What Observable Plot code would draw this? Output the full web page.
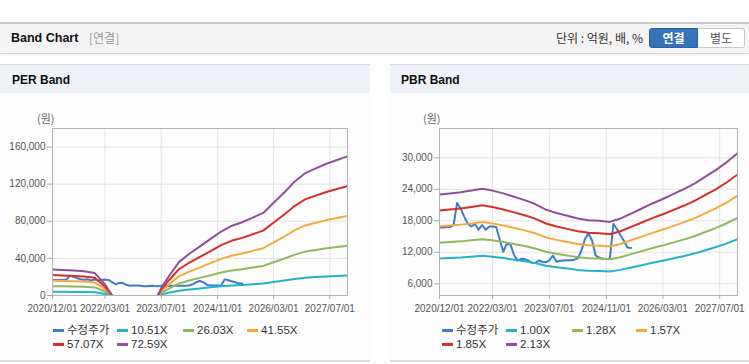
<!DOCTYPE html>
<html><head><meta charset="utf-8">
<script src="https://cdn.jsdelivr.net/npm/d3@7"></script>
<script src="https://cdn.jsdelivr.net/npm/@observablehq/plot@0.6"></script>
<style>
body{margin:0;width:749px;height:364px;position:relative;overflow:hidden;background:#fff;font-family:"Liberation Sans","Noto Sans CJK KR",Arial,sans-serif;}
.abs{position:absolute;white-space:nowrap;}
#topbar{left:0;top:22px;width:749px;height:32px;box-sizing:border-box;background:#f4f4f4;border-top:2px solid #c8c8c8;border-bottom:1px solid #d4d4d4;box-shadow:0 1px 2px rgba(0,0,0,0.07);}
.title{font-weight:bold;font-size:12.5px;color:#111;line-height:16px;}
.btn{top:28px;height:20px;box-sizing:border-box;font-size:12px;line-height:18px;text-align:center;font-family:"Noto Sans CJK KR",sans-serif;}
.panel{top:64px;height:298px;border-top:1px solid #dadada;border-bottom:2px solid #dedede;box-sizing:border-box;background:#fdfdfd;}
.phead{position:absolute;left:0;top:0;right:0;height:28px;background:#eef2f7;}
.unit{font-size:11px;color:#666;line-height:14px;font-family:"Noto Sans CJK KR",sans-serif;}
.leg{font-size:11.5px;color:#333;line-height:14px;display:flex;align-items:center;}
.sw{display:inline-block;width:11px;height:3px;margin-right:3px;}
</style></head>
<body>
<div id="topbar" class="abs"></div>
<div class="abs title" style="left:11px;top:30px;">Band Chart</div>
<div class="abs" style="left:89px;top:30px;font-size:12px;line-height:16px;color:#999;font-family:'Noto Sans CJK KR',sans-serif;">[연결]</div>
<div class="abs" style="right:106px;top:30px;font-size:12px;line-height:16px;color:#333;font-family:'Noto Sans CJK KR',sans-serif;">단위 : 억원, 배, %</div>
<div class="abs btn" style="left:649px;width:49px;background:#3572b8;border:1px solid #2c62a2;border-radius:3px 0 0 3px;color:#fff;font-weight:bold;">연결</div>
<div class="abs btn" style="left:698px;width:47px;background:#fff;border:1px solid #c9c9c9;border-left:none;border-radius:0 3px 3px 0;color:#555;">별도</div>

<div class="abs panel" style="left:0;width:370px;"><div class="phead"></div></div>
<div class="abs panel" style="left:390px;width:359px;"><div class="phead"></div></div>
<div class="abs title" style="left:12px;top:72px;font-size:12px;">PER Band</div>
<div class="abs title" style="left:401px;top:72px;font-size:12px;">PBR Band</div>
<div class="abs unit" style="left:37px;top:111px;">(원)</div>
<div class="abs unit" style="left:423px;top:111px;">(원)</div>
<div id="per" class="abs" style="left:0;top:110px;"></div>
<div id="pbr" class="abs" style="left:390px;top:110px;"></div>
<div id="perLeg"></div>
<div id="pbrLeg"></div>

<script>
// ---------- data ----------
const priceMonths = ["2020-12","2021-01","2021-02","2021-03","2021-04","2021-05","2021-06","2021-07","2021-08","2021-09","2021-10","2021-11",
"2021-12","2022-01","2022-02","2022-03","2022-04","2022-05","2022-06","2022-07","2022-08","2022-09","2022-10","2022-11",
"2022-12","2023-01","2023-02","2023-03","2023-04","2023-05","2023-06","2023-07","2023-08","2023-09","2023-10","2023-11",
"2023-12","2024-01","2024-02","2024-03","2024-04","2024-05","2024-06","2024-07","2024-08","2024-09","2024-10","2024-11",
"2024-12","2025-01","2025-02","2025-03","2025-04","2025-05","2025-06"];
const priceValues = [16700,16700,16800,16800,17200,21400,20300,18800,17400,16900,17400,16300,
17200,16300,16900,16900,16800,14500,12100,13600,13500,11500,10450,10750,
10700,10450,10000,9950,10440,10200,10100,10440,11400,10200,10400,10450,
10500,10500,10600,10800,12300,14500,15600,14300,11400,11000,10750,10700,
10700,17400,16400,15300,14200,12900,12800];

const perMonths = ["2020-12","2021-03","2021-06","2021-09","2021-12","2022-03","2022-05","2022-12","2023-06","2023-07","2023-09","2023-12",
"2024-03","2024-06","2024-09","2024-12","2025-03","2025-06","2025-09","2025-12","2026-03","2026-06","2026-09","2026-12",
"2027-03","2027-06","2027-09","2027-12"];
const per1051 = [4046,3973,3889,3784,3521,1734,0,null,0,1156,2890,5213,6516,7672,8828,9985,10857,11435,12160,12885,14483,16070,17804,19107,19832,20558,21136,21714];
const per2603 = [10022,9839,9631,9371,8720,4295,0,null,0,2863,7158,12911,16139,19002,21865,24729,26889,28321,30117,31913,35869,39800,44095,47323,49119,50915,52346,53778];
const per4155 = [15997,15706,15374,14958,13919,6856,0,null,0,4571,11426,20609,25761,30332,34902,39473,42921,45206,48073,50940,57256,63530,70386,75538,78405,81272,83557,85842];
const per5707 = [21972,21572,21116,20545,19118,9417,0,null,0,6278,15694,28307,35383,41661,47939,54217,58953,62092,66030,69968,78642,87260,96677,103753,107691,111629,114768,117907];
const per7259 = [27947,27439,26858,26132,24318,11977,0,null,0,7985,19962,36005,45006,52991,60976,68961,74985,78978,83987,88995,100029,110990,122967,131969,136977,141986,145978,149971];

const pbrMonths = ["2020-12","2021-03","2021-06","2021-09","2021-12","2022-03","2022-06","2022-09","2022-12","2023-03","2023-06","2023-09",
"2023-12","2024-03","2024-06","2024-09","2024-12","2025-03","2025-06","2025-09","2025-12","2026-03","2026-06","2026-09",
"2026-12","2027-03","2027-06","2027-09","2027-12"];
const pbr100 = [10800,10900,11000,11150,11320,11150,10900,10600,10300,9950,9450,9150,8900,8650,8500,8450,8350,8650,9100,9550,10000,10400,10850,11300,11800,12400,13000,13700,14500];
const pbr128 = [13824,13952,14080,14272,14490,14272,13952,13568,13184,12736,12096,11712,11392,11072,10880,10816,10688,11072,11648,12224,12800,13312,13888,14464,15104,15872,16640,17536,18560];
const pbr157 = [16956,17113,17270,17506,17772,17506,17113,16642,16171,15622,14837,14366,13973,13581,13345,13267,13110,13581,14287,14994,15700,16328,17035,17741,18526,19468,20410,21509,22765];
const pbr185 = [19980,20165,20350,20628,20942,20628,20165,19610,19055,18408,17483,16928,16465,16003,15725,15633,15448,16003,16835,17668,18500,19240,20073,20905,21830,22940,24050,25345,26825];
const pbr213 = [23004,23217,23430,23750,24112,23750,23217,22578,21939,21194,20129,19490,18957,18425,18105,17999,17786,18425,19383,20342,21300,22152,23111,24069,25134,26412,27690,29181,30885];

const perNames = ["수정주가","10.51X","26.03X","41.55X","57.07X","72.59X"];
const pbrNames = ["수정주가","1.00X","1.28X","1.57X","1.85X","2.13X"];
const seriesColors = ["#3d7cc9","#22b3c9","#8fb85a","#f5a93c","#d3302b","#904f9b"];

const xTickLabels = ["2020/12/01","2022/03/01","2023/07/01","2024/11/01","2026/03/01","2027/07/01"];
const xDomainMonths = ["2020-12","2027-12"];
const perYTicks = [0,40000,80000,120000,160000];
const perYTickLabels = ["0","40,000","80,000","120,000","160,000"];
const pbrYTicks = [6000,12000,18000,24000,30000];
const pbrYTickLabels = ["6,000","12,000","18,000","24,000","30,000"];

// ---------- build ----------
const parseM = d3.utcParse("%Y-%m");
const parseT = d3.utcParse("%Y/%m/%d");
const xTicks = xTickLabels.map(parseT);
const xLabelMap = new Map(xTicks.map((d,i)=>[+d, xTickLabels[i]]));

function rows(names, bandMonths, bands){
  const out = [];
  priceMonths.forEach((m,i)=>out.push({date:parseM(m), value:priceValues[i], series:names[0]}));
  bands.forEach((vals,k)=>{
    bandMonths.forEach((m,i)=>out.push({date:parseM(m), value:vals[i], series:names[k+1]}));
  });
  return out;
}

function chart(opts){
  const yMap = new Map(opts.yTicks.map((d,i)=>[d, opts.yLabels[i]]));
  return Plot.plot({
    width: opts.width, height: 205,
    marginLeft: opts.ml, marginRight: opts.mr, marginTop: 18, marginBottom: 20,
    style: {fontFamily: "Liberation Sans, Arial, sans-serif", fontSize: "10px", background: "transparent", overflow: "visible"},
    x: {type: "utc", domain: xDomainMonths.map(parseM)},
    y: {domain: opts.yDomain},
    color: {domain: opts.names, range: seriesColors},
    marks: [
      Plot.gridX(xTicks, {stroke: "#e4e4e4", strokeOpacity: 1}),
      Plot.gridY(opts.yTicks, {stroke: "#e4e4e4", strokeOpacity: 1}),
      Plot.axisX(xTicks, {tickFormat: d => xLabelMap.get(+d), tickSize: 4, tickPadding: 5, stroke: "#aaa", fill: "#555", label: null}),
      Plot.axisY(opts.yTicks, {tickFormat: d => yMap.get(d), tickSize: 5, tickPadding: 2, stroke: "#aaa", fill: "#555", label: null}),
      Plot.line(opts.data, {x: "date", y: "value", z: "series", stroke: "series", strokeWidth: 2, strokeLinejoin: "round", clip: true}),
      Plot.frame({stroke: "#b3b3b3"})
    ]
  });
}

document.getElementById("per").append(chart({
  width: 370, ml: 52, mr: 23, yDomain: [0, 180000], yTicks: perYTicks, yLabels: perYTickLabels,
  names: perNames, data: rows(perNames, perMonths, [per1051, per2603, per4155, per5707, per7259])
}));
document.getElementById("pbr").append(chart({
  width: 359, ml: 49, mr: 12, yDomain: [3770, 35580], yTicks: pbrYTicks, yLabels: pbrYTickLabels,
  names: pbrNames, data: rows(pbrNames, pbrMonths, [pbr100, pbr128, pbr157, pbr185, pbr213])
}));

function legend(id, left, names){
  const colOff = [0, 64, 130, 194];
  const el = document.getElementById(id);
  names.forEach((n,i)=>{
    const d = document.createElement("div");
    d.className = "abs leg";
    d.style.left = (left + colOff[i % 4]) + "px";
    d.style.top = (i < 4 ? 323 : 337) + "px";
    d.innerHTML = `<span class="sw" style="background:${seriesColors[i]}"></span><span>${n}</span>`;
    el.append(d);
  });
}
legend("perLeg", 53, perNames);
legend("pbrLeg", 442, pbrNames);
</script>
</body></html>
